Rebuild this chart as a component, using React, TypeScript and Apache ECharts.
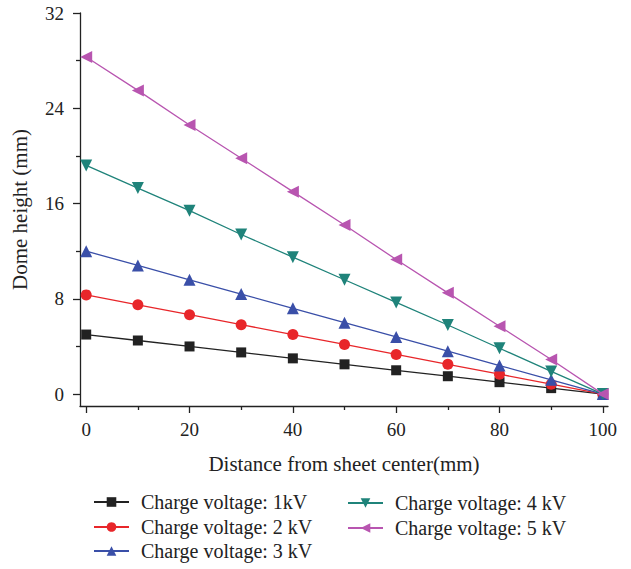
import React, { useEffect, useRef } from "react";
import * as echarts from "echarts";

const distances = [0, 10, 20, 30, 40, 50, 60, 70, 80, 90, 100];
const v1kV = [5.0, 4.5, 4.0, 3.5, 3.0, 2.5, 2.0, 1.5, 1.0, 0.5, 0];
const v2kV = [8.33, 7.5, 6.67, 5.83, 5.0, 4.17, 3.33, 2.5, 1.67, 0.83, 0];
const v3kV = [12.0, 10.8, 9.6, 8.4, 7.2, 6.0, 4.8, 3.6, 2.4, 1.2, 0];
const v4kV = [19.2, 17.3, 15.4, 13.4, 11.5, 9.6, 7.7, 5.8, 3.85, 1.9, 0];
const v5kV = [28.3, 25.5, 22.6, 19.8, 17.0, 14.2, 11.3, 8.5, 5.7, 2.9, 0];
const seriesNames = [
  "Charge voltage: 1kV",
  "Charge voltage: 2 kV",
  "Charge voltage: 3 kV",
  "Charge voltage: 4 kV",
  "Charge voltage: 5 kV",
];
const xMajorTicks = [0, 20, 40, 60, 80, 100];
const xMinorTicks = [10, 30, 50, 70, 90];
const yMajorTicks = [0, 8, 16, 24, 32];
const yMinorTicks = [4, 12, 20, 28];

const FONT = "Liberation Serif";
const AXIS_COLOR = "#222";

export default function App() {
  const ref = useRef<HTMLDivElement>(null);
  useEffect(() => {
    const chart = echarts.init(ref.current!, undefined, { renderer: "svg" });
    const values = [v1kV, v2kV, v3kV, v4kV, v5kV];
    const colors = ["#222222", "#e8262a", "#3a4fa8", "#1f837a", "#b855b0"];
    const symbols = ["rect", "circle", "triangle", "triangle", "triangle"];
    const rotates = [0, 0, 0, 180, 90];
    const sizes = [10, 11, 12, 12, 12];
    const series = values.map((vals, i) => ({
      name: seriesNames[i],
      type: "line",
      data: distances.map((d, j) => [d, vals[j]]),
      symbol: symbols[i],
      symbolRotate: rotates[i],
      symbolSize: sizes[i],
      showAllSymbol: true,
      lineStyle: { color: colors[i], width: 1.3 },
      itemStyle: { color: colors[i] },
      z: 2 + i,
    }));
    const axisText = { fontFamily: FONT, fontSize: 19, color: "#222" };
    const legendPos = [
      { left: 93, center: 502 },
      { left: 93, center: 527 },
      { left: 93, center: 551 },
      { left: 347, center: 503 },
      { left: 347, center: 528 },
    ];
    const legends = seriesNames.map((n, i) => ({
      data: [n],
      left: legendPos[i].left,
      top: legendPos[i].center - 10,
      padding: 0,
      itemWidth: 35,
      itemHeight: 12,
      textStyle: {
        fontFamily: FONT,
        fontSize: 20,
        lineHeight: 20,
        color: "#222",
        padding: [0, 0, 0, 7],
      },
    }));
    chart.setOption({
      animation: false,
      grid: { left: 80, right: 23, top: 13, bottom: 163, containLabel: false },
      xAxis: [
        {
          type: "value",
          min: -1.2,
          max: 101,
          name: "Distance from sheet center(mm)",
          nameLocation: "middle",
          nameGap: 47,
          nameTextStyle: { fontFamily: FONT, fontSize: 21, color: "#222" },
          axisLine: { show: true, onZero: false, lineStyle: { color: AXIS_COLOR, width: 1.3 } },
          axisTick: { show: true, inside: false, length: 7, customValues: xMajorTicks, lineStyle: { color: AXIS_COLOR, width: 1.3 } },
          axisLabel: { ...axisText, margin: 14, customValues: xMajorTicks },
          splitLine: { show: false },
        },
        {
          type: "value",
          min: -1.2,
          max: 101,
          position: "bottom",
          axisLine: { show: false, onZero: false },
          axisTick: { show: true, inside: false, length: 4, customValues: xMinorTicks, lineStyle: { color: AXIS_COLOR, width: 1.3 } },
          axisLabel: { show: false },
          splitLine: { show: false },
        },
      ],
      yAxis: [
        {
          type: "value",
          min: -1,
          max: 32,
          name: "Dome height (mm)",
          nameLocation: "middle",
          nameGap: 50,
          nameRotate: 90,
          nameTextStyle: { fontFamily: FONT, fontSize: 21, color: "#222" },
          axisLine: { show: true, onZero: false, lineStyle: { color: AXIS_COLOR, width: 1.3 } },
          axisTick: { show: true, inside: false, length: 7, customValues: yMajorTicks, lineStyle: { color: AXIS_COLOR, width: 1.3 } },
          axisLabel: { ...axisText, margin: 16, customValues: yMajorTicks },
          splitLine: { show: false },
        },
        {
          type: "value",
          min: -1,
          max: 32,
          position: "left",
          axisLine: { show: false, onZero: false },
          axisTick: { show: true, inside: false, length: 4, customValues: yMinorTicks, lineStyle: { color: AXIS_COLOR, width: 1.3 } },
          axisLabel: { show: false },
          splitLine: { show: false },
        },
      ],
      legend: legends,
      series,
    });
    return () => chart.dispose();
  }, []);
  return (
    <div
      ref={ref}
      style={{ position: "absolute", left: 0, top: 0, width: 631, height: 569 }}
    />
  );
}
